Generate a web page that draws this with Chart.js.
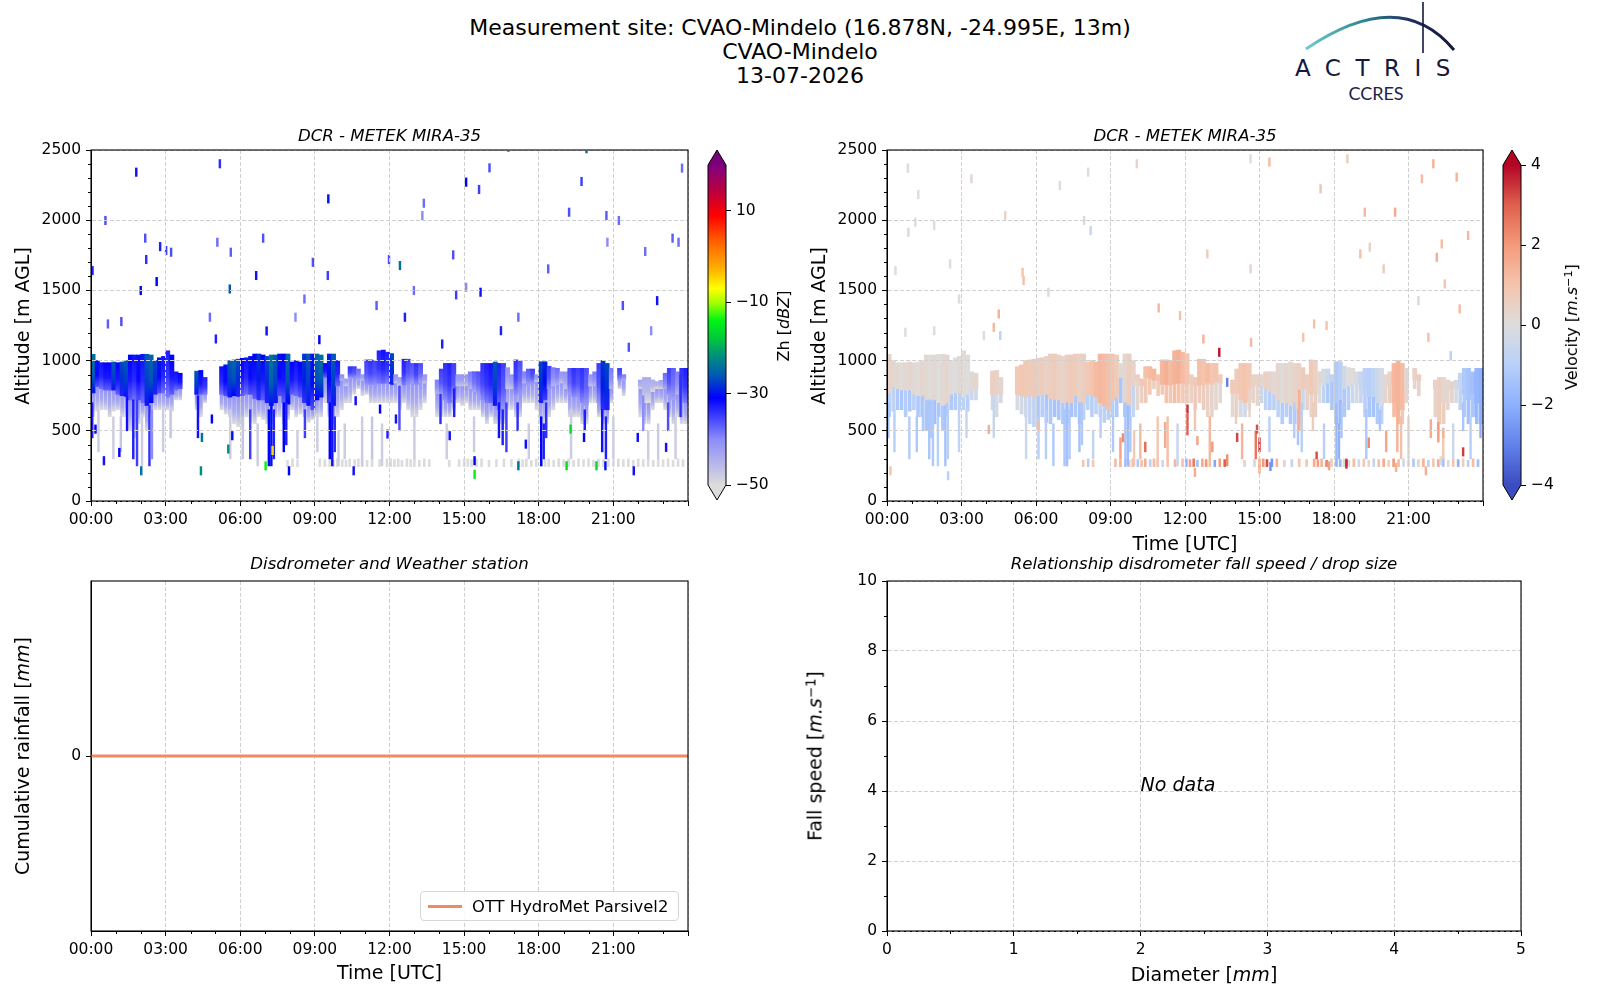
<!DOCTYPE html>
<html lang="en">
<head>
<meta charset="utf-8">
<title>CVAO-Mindelo 13-07-2026</title>
<script src="https://cdn.jsdelivr.net/npm/chart.js@4.4.1/dist/chart.umd.min.js"></script>
<style>
  html, body { margin: 0; padding: 0; background: #ffffff; }
  body { position: relative; width: 1600px; height: 1000px; overflow: hidden; font-family: "DejaVu Sans", sans-serif; color: #000; }
  .box { position: absolute; }
  .txt { position: absolute; white-space: nowrap; line-height: 1; transform: translate(-50%, -50%); }
  .vtxt { position: absolute; white-space: nowrap; line-height: 1; transform: translate(-50%, -50%) rotate(-90deg); }
  .ttl { font-style: italic; font-size: 16.6px; }
  .lab { font-size: 19px; }
  .cbl { font-size: 16px; }
  sup { font-size: 70%; vertical-align: 0.45em; line-height: 0; }
  #suptitle { position: absolute; left: 0; top: 16px; width: 1600px; text-align: center; font-size: 22px; line-height: 24px; }
  #logo-actris { position: absolute; left: 1295px; top: 57px; font-family: "DejaVu Sans", sans-serif; font-size: 23px; letter-spacing: 14.5px; color: #16193f; line-height: 1; }
  #logo-ccres { position: absolute; left: 1376px; top: 93px; transform: translate(-50%, -50%); font-family: Lato, "DejaVu Sans", sans-serif; font-size: 18px; color: #1f2348; line-height: 1; }
  #legend { position: absolute; left: 420px; top: 891px; width: 259px; height: 30px; border: 1px solid #d6d6d6; border-radius: 4px; background: rgba(255,255,255,0.85); box-sizing: border-box; }
  #legend .swatch { position: absolute; left: 7px; top: 13px; width: 34px; height: 3px; background: #ef8a62; }
  #legend .name { position: absolute; left: 51px; top: 50%; transform: translateY(-50%); font-size: 16.4px; white-space: nowrap; }
</style>
</head>
<body>

<div id="suptitle">Measurement site: CVAO-Mindelo (16.878N, -24.995E, 13m)<br>CVAO-Mindelo<br>13-07-2026</div>

<svg class="box" style="left:1290px;top:0" width="180" height="60">
  <defs>
    <linearGradient id="arcGrad" x1="0" x2="1" y1="0" y2="0">
      <stop offset="0" stop-color="#72cbc6"/>
      <stop offset="0.4" stop-color="#2b8593"/>
      <stop offset="0.72" stop-color="#1f2a58"/>
      <stop offset="1" stop-color="#15183a"/>
    </linearGradient>
  </defs>
  <path d="M16 49 Q110 -15 164 50" stroke="url(#arcGrad)" stroke-width="3" fill="none"/>
  <line x1="133" y1="2" x2="133" y2="53" stroke="#15183a" stroke-width="1.6"/>
</svg>
<div id="logo-actris">ACTRIS</div>
<div id="logo-ccres">CCRES</div>

<div class="box" style="left:0;top:130px;width:700px;height:410px"><canvas id="zhChart"></canvas></div>
<div class="box" style="left:700px;top:130px;width:90px;height:410px"><canvas id="zhBar"></canvas></div>
<div class="box" style="left:800px;top:130px;width:700px;height:410px"><canvas id="velChart"></canvas></div>
<div class="box" style="left:1495px;top:130px;width:100px;height:410px"><canvas id="velBar"></canvas></div>
<div class="box" style="left:0;top:560px;width:700px;height:420px"><canvas id="rainChart"></canvas></div>
<div class="box" style="left:800px;top:560px;width:760px;height:420px"><canvas id="dropChart"></canvas></div>

<div class="txt ttl" style="left:389.5px;top:136px">DCR - METEK MIRA-35</div>
<div class="txt ttl" style="left:1185px;top:136px">DCR - METEK MIRA-35</div>
<div class="txt ttl" style="left:389.5px;top:564px">Disdrometer and Weather station</div>
<div class="txt ttl" style="left:1204px;top:564px">Relationship disdrometer fall speed / drop size</div>

<div class="vtxt lab" style="left:22px;top:326px">Altitude [m AGL]</div>
<div class="vtxt lab" style="left:818px;top:326px">Altitude [m AGL]</div>
<div class="txt lab" style="left:1185px;top:543px">Time [UTC]</div>
<div class="vtxt cbl" style="left:784px;top:326px">Zh [<i>dBZ</i>]</div>
<div class="vtxt cbl" style="left:1572px;top:327px">Velocity [<i>m.s</i><sup>&minus;1</sup>]</div>

<div class="vtxt lab" style="left:22px;top:756px">Cumulative rainfall [<i>mm</i>]</div>
<div class="txt lab" style="left:389.5px;top:972px">Time [UTC]</div>
<div class="vtxt lab" style="left:815px;top:756px">Fall speed [<i>m.s</i><sup>&minus;1</sup>]</div>
<div class="txt lab" style="left:1204px;top:974px">Diameter [<i>mm</i>]</div>

<div id="legend"><div class="swatch"></div><div class="name">OTT HydroMet Parsivel2</div></div>

<script>
// Ticks dos eixos
const hourTicks = [0, 3, 6, 9, 12, 15, 18, 21, 24];
const altitudeTicks = [0, 500, 1000, 1500, 2000, 2500];
const zhTicks = [-50, -30, -10, 10];
const velocityTicks = [-4, -2, 0, 2, 4];
const rainTicks = [0];
const diameterTicks = [0, 1, 2, 3, 4, 5];
const fallSpeedTicks = [0, 2, 4, 6, 8, 10];

// Colunas do radar a cada 10 min (6 por hora)
const COLUMN_H = 1 / 6;

// Topo da nuvem (m)
const cloudTop = [
  1045, 1000, 985, 985, 985, 990,     // 00h
  985, 990, 1000, 1040, 1040, 1040,   // 01h
  1045, 1045, 1040, 1000, 1020, 1030, // 02h
  1070, 1040, 920, 910, null, null,   // 03h
  null, 925, 930, 880, null, null,    // 04h
  null, 957, 970, 1000, 1005, 1010,   // 05h
  1016, 1020, 1030, 1047, 1047, 1040, // 06h
  1030, 1040, 1040, 1047, 1047, 1047, // 07h
  990, 1000, 990, 1047, 1047, 1047,   // 08h
  1047, 1040, 980, 1047, 1047, 1000,  // 09h
  900, 870, 957, 957, 940, 900,       // 10h
  1005, 1005, 1000, 1070, 1075, 1060, // 11h
  1050, 900, 880, 1010, 1010, 980,    // 12h
  980, 980, 900, null, null, 862,     // 13h
  940, 980, 980, 980, 900, 900,       // 14h
  900, 920, 921, 921, 980, 980,       // 15h
  980, 990, 980, 980, 950, 900,       // 16h
  1005, 1000, 921, 940, 940, 900,     // 17h
  992, 992, 960, 950, 945, 920,       // 18h
  920, 945, 945, 945, 945, 945,       // 19h
  900, 920, 980, 1000, 980, 945,      // 20h
  null, 945, 900, null, null, null,   // 21h
  862, 880, 880, 862, 850, 860,       // 22h
  910, 945, 945, 920, 945, 945        // 23h
];

// Base da parte densa do eco (m)
const denseBase = [
  770, 815, 800, 790, 790, 790,
  760, 750, 745, 720, 720, 720,
  700, 680, 700, 760, 770, 770,
  740, 760, 790, 800, null, null,
  null, 760, 760, 760, null, null,
  null, 760, 750, 740, 750, 745,
  750, 760, 760, 730, 720, 720,
  700, 680, 700, 750, 700, 690,
  760, 750, 740, 700, 680, 650,
  720, 740, 880, 700, 680, 820,
  860, 820, 880, 874, 860, 860,
  830, 830, 826, 838, 838, 840,
  830, 840, 820, 826, 830, 840,
  830, 850, 840, null, null, 767,
  767, 720, 700, 720, 820, 820,
  820, 800, 780, 760, 720, 700,
  700, 680, 650, 660, 800, 800,
  760, 760, 840, 820, 840, 850,
  700, 720, 800, 820, 830, 840,
  800, 760, 743, 743, 700, 680,
  820, 820, 700, 650, 650, 800,
  null, 862, 860, null, null, null,
  800, 700, 700, 780, 800, 800,
  800, 760, 720, 760, 700, 700
];

// Base da virga fraca (m)
const virgaBase = [
  600, 640, 650, 650, 600, 640,
  650, 600, 600, 500, 450, 550,
  600, 500, 600, 650, 650, 650,
  650, 640, 720, 720, null, null,
  null, 650, 600, 700, null, null,
  null, 650, 620, 600, 550, 530,
  530, 600, 560, 550, 600, 580,
  550, 550, 600, 600, 550, 580,
  650, 600, 620, 600, 560, 580,
  600, 600, 700, 600, 550, 600,
  650, 700, 700, 760, 800, 750,
  760, 700, 700, 700, 700, 700,
  700, 700, 650, 700, 650, 600,
  600, 650, 700, null, null, 600,
  600, 600, 600, 650, 700, 680,
  700, 650, 650, 650, 600, 550,
  600, 550, 550, 550, 650, 650,
  600, 600, 700, 700, 700, 650,
  550, 550, 600, 650, 700, 700,
  700, 600, 600, 600, 550, 550,
  700, 700, 600, 550, 550, 700,
  null, 800, 750, null, null, null,
  600, 550, 550, 650, 700, 700,
  650, 600, 550, 600, 550, 550
];

// Refletividade no topo da parte densa (dBZ)
const zhCore = [
  -24, -30, -32, -31, -31, -26,
  -31, -27, -26, -31, -32, -30,
  -32, -26, -25, -27, -30, -32,
  -33, -31, -32, -31, null, null,
  null, -26, -31, -33, null, null,
  null, -32, -30, -26, -25, -27,
  -31, -32, -30, -31, -28, -31,
  -27, -24, -26, -30, -31, -25,
  -31, -32, -31, -28, -26, -30,
  -25, -24, -31, -29, -26, -32,
  -40, -42, -34, -35, -38, -41,
  -35, -34, -35, -33, -32, -33,
  -27, -41, -42, -33, -35, -36,
  -34, -36, -41, null, null, -39,
  -35, -34, -33, -35, -41, -41,
  -41, -39, -37, -36, -34, -33,
  -32, -26, -33, -35, -41, -41,
  -34, -36, -39, -37, -35, -41,
  -27, -29, -35, -39, -38, -41,
  -41, -36, -34, -35, -34, -36,
  -41, -39, -35, -28, -27, -39,
  null, -35, -39, null, null, null,
  -43, -44, -44, -44, -44, -43,
  -38, -35, -37, -39, -34, -33
];

// Velocidade Doppler na parte superior (m/s)
const velUpper = [
  0.4, 0.3, 0.2, 0.1, 0.2, 0.3,
  0.2, 0.1, 0.3, 0.2, 0.1, 0.2,
  0.0, 0.2, 0.3, 0.1, 0.0, 0.2,
  0.1, 0.0, 0.2, 0.3, null, null,
  null, 0.6, 0.5, 0.3, null, null,
  null, 0.8, 0.9, 0.8, 0.7, 0.8,
  0.6, 0.7, 0.5, 0.6, 0.7, 0.5,
  0.4, 0.6, 0.8, 0.7, 0.5, 0.6,
  0.8, 1.0, 1.2, 1.3, 1.2, 1.1,
  1.0, 0.7, 0.2, 0.3, 0.6, 0.4,
  0.6, 0.9, 1.1, 1.2, 1.3, 1.0,
  1.3, 1.5, 1.2, 1.4, 1.5, 1.2,
  1.0, 0.6, 0.8, 1.1, 1.0, 1.2,
  0.9, 1.0, 0.7, null, null, 0.8,
  0.7, 0.9, 1.0, 0.8, 0.5, 0.4,
  0.3, 0.5, 0.4, 0.2, 0.3, 0.1,
  0.3, 0.2, 0.4, 0.5, 0.7, 0.6,
  0.8, 0.5, 0.3, -0.2, -0.5, -0.8,
  -1.2, -1.0, -0.4, 0.0, 0.1, -0.2,
  -0.6, -0.9, -1.0, -0.8, -0.5, -0.2,
  0.2, 0.5, 1.3, 1.4, 1.2, 0.3,
  null, 0.5, 0.6, null, null, null,
  0.4, 0.6, 0.3, 0.2, 0.5, -0.3,
  -0.6, -1.2, -1.4, -1.5, -1.8, -1.9
];

// Velocidade Doppler na virga (m/s)
const velLower = [
  -1.0, -0.8, -1.2, -1.3, -1.1, -1.2,
  -1.0, -1.2, -1.4, -1.3, -1.2, -1.5,
  -1.3, -1.2, -1.0, -1.2, -1.1, -0.9,
  -0.8, -1.0, -0.5, -0.4, null, null,
  null, -0.4, -0.2, -0.3, null, null,
  null, -0.2, -0.3, -0.5, -0.6, -0.8,
  -1.2, -1.0, -1.3, -1.2, -1.4, -1.3,
  -1.2, -1.1, -1.4, -1.2, -1.0, -0.8,
  -0.9, -1.0, -0.8, -0.6, -0.9, -1.0,
  -1.0, -1.2, -1.3, -1.5, -1.2, -0.6,
  0.3, 0.5, 0.8, 0.9, 0.6, 0.7,
  0.8, 1.0, 0.9, 1.1, 1.0, 0.8,
  0.6, 0.5, 0.4, 0.6, 0.7, 0.5,
  0.4, 0.3, 0.2, null, null, 0.2,
  0.0, -0.2, -0.3, 0.2, 0.4, 0.3,
  -0.4, -0.8, -1.0, -0.9, -0.8, -1.1,
  -1.0, -1.2, -1.3, -0.9, -0.5, 0.5,
  0.4, 0.6, 0.1, -0.8, -1.2, -1.3,
  -1.6, -1.8, -1.2, -1.0, -0.5, -0.3,
  -0.6, -1.0, -1.3, -1.4, -1.2, -0.8,
  0.3, 0.6, 1.2, 1.3, 0.8, 0.2,
  null, 0.3, 0.4, null, null, null,
  0.5, 0.8, 0.6, 0.3, 0.4, -0.2,
  -0.8, -1.2, -1.5, -1.3, -1.6, -1.7
];

// Faixas de precipitação: [hora, base m, topo m, Zh dBZ, velocidade m/s]
const streaks = [
  [0.05, 450, 700, -33, -1.5], [0.3, 350, 650, -48, -1.0], [0.9, 300, 600, -48, -1.1],
  [1.2, 350, 600, -47, -1.2], [1.45, 500, 750, -32, -1.2], [1.7, 300, 720, -33, -1.3],
  [1.85, 250, 720, -35, -1.2], [2.05, 250, 600, -48, -1.0], [2.35, 250, 680, -34, -1.4],
  [2.45, 300, 650, -40, -1.0], [2.9, 350, 650, -48, -0.8], [3.2, 450, 650, -47, -0.6],
  [4.3, 450, 750, -32, -0.6], [5.6, 300, 650, -48, -0.5], [6.1, 300, 600, -47, -1.0],
  [6.4, 300, 650, -35, -1.0], [6.7, 250, 550, -48, -1.2], [7.15, 250, 650, -31, -1.3],
  [7.25, 250, 700, -30, -1.5], [7.35, 300, 650, -33, -1.2], [7.75, 350, 700, -31, -1.4],
  [7.85, 400, 700, -33, -1.2], [8.3, 300, 500, -48, -0.8], [8.6, 450, 650, -35, -1.0],
  [9.1, 350, 600, -48, -1.2], [9.6, 300, 700, -31, -1.3], [9.7, 250, 680, -32, -1.6],
  [9.8, 350, 600, -34, -1.2], [9.95, 250, 500, -48, 0.8], [10.2, 300, 550, -48, 1.2],
  [10.9, 250, 600, -48, 0.9], [11.3, 300, 600, -47, 1.1], [11.7, 250, 550, -48, -0.6],
  [12.4, 500, 820, -36, 0.9], [13.0, 300, 600, -48, 1.3], [14.05, 550, 760, -34, 0.6],
  [14.3, 300, 550, -48, 1.4], [14.6, 600, 800, -33, 0.4], [15.4, 350, 600, -48, -0.9],
  [16.4, 450, 700, -32, -1.1], [16.55, 400, 650, -33, -1.3], [16.7, 350, 700, -35, -1.0],
  [17.15, 500, 700, -34, 0.7], [17.6, 300, 550, -48, -1.0], [18.1, 250, 600, -31, -1.7],
  [18.2, 300, 550, -33, -1.9], [18.3, 450, 700, -34, -1.4], [19.3, 300, 650, -48, -1.2],
  [19.85, 500, 650, -33, -1.3], [20.55, 350, 650, -32, 1.4], [20.7, 300, 600, -33, 1.1],
  [21.0, 300, 600, -48, 0.5], [22.2, 500, 750, -40, 0.6], [22.4, 300, 500, -48, 0.9],
  [22.8, 300, 550, -48, -0.5], [23.2, 500, 700, -36, -1.3], [23.5, 300, 600, -48, -1.0],
  [23.7, 600, 900, -34, -1.8]
];

// Faixas vistas apenas na velocidade: [hora, base m, topo m, velocidade m/s]
const velStreaks = [
  [9.4, 300, 450, 1.8], [10.4, 350, 420, 2.8], [11.2, 380, 560, 1.6], [12.1, 470, 620, 3.0],
  [12.5, 400, 460, 1.8], [13.1, 350, 420, 2.0], [13.7, 250, 330, 2.2], [14.85, 300, 500, 2.6],
  [15.0, 350, 450, 3.4], [16.6, 500, 790, 1.5], [17.3, 300, 350, 3.2], [18.5, 250, 300, 3.0],
  [19.4, 380, 450, 2.3], [20.1, 350, 500, 1.7], [21.9, 450, 580, 1.6], [22.2, 420, 560, 1.9],
  [22.4, 450, 520, 1.4], [23.2, 320, 380, 3.4], [23.9, 450, 700, -2.0]
];

// Camada baixa perto do solo: [hora, topo m, velocidade m/s]
const LOW_BASE = 245;
const LOW_ZH = -50;
const lowLayer = [
  [7.9, 290, 1.0], [8.1, 300, -1.0], [8.3, 290, 0.8], [9.2, 300, 1.2], [9.4, 295, 1.4],
  [9.6, 300, -1.5], [9.75, 290, 0.9], [9.9, 300, 1.3], [10.1, 295, -1.2], [10.25, 290, 1.1],
  [10.4, 300, 1.5], [10.6, 295, -0.9], [10.75, 300, 1.2], [10.9, 295, 0.8], [11.1, 290, -0.5],
  [11.3, 300, 1.0], [11.6, 295, 1.3], [11.9, 300, 1.1], [12.05, 300, -2.0], [12.2, 295, 1.8],
  [12.35, 300, 2.5], [12.5, 290, -1.5], [12.7, 300, 1.6], [12.85, 295, 2.0], [13.0, 300, 1.2],
  [13.2, 290, -2.2], [13.4, 300, 1.9], [13.6, 295, 3.0], [14.4, 290, 0.4], [14.8, 295, -0.3],
  [15.0, 300, 1.5], [15.15, 300, 2.0], [15.3, 295, 3.2], [15.5, 300, -2.5], [15.7, 300, 1.4],
  [16.0, 290, 0.5], [16.3, 295, -0.8], [16.6, 300, 1.0], [16.9, 295, 0.8], [17.2, 300, 1.5],
  [17.35, 295, 1.9], [17.5, 300, 1.3], [17.7, 290, 2.4], [17.9, 300, 0.6], [18.1, 300, -1.5],
  [18.25, 295, -1.8], [18.4, 300, 0.2], [18.6, 290, 0.0], [18.8, 300, 1.2], [19.0, 295, -0.4],
  [19.2, 300, 0.9], [19.4, 290, 0.3], [19.6, 300, -0.6], [19.8, 295, 1.1], [20.0, 300, 1.6],
  [20.2, 290, 0.5], [20.4, 300, 2.0], [20.6, 295, 1.2], [20.8, 300, -0.3], [21.0, 290, 0.6],
  [21.2, 300, -1.2], [21.4, 295, 0.4], [21.6, 300, 1.4], [21.8, 290, -0.9], [22.0, 300, 0.8],
  [22.2, 295, 1.6], [22.4, 300, -1.4], [22.6, 290, 0.2], [22.8, 300, 1.0], [23.0, 295, -2.0],
  [23.2, 300, 0.6], [23.4, 290, -1.0], [23.6, 300, 1.2], [23.8, 295, -1.5]
];

// Ecos isolados de refletividade: [hora, altitude m, Zh dBZ]
const SPECK_DEPTH = 60;
const zhSpecks = [
  [1.82, 2312, -32], [5.18, 2372, -34], [0.58, 1968, -36], [9.54, 2122, -30], [2.18, 1842, -36],
  [2.78, 1782, -33], [3.02, 1754, -35], [3.22, 1742, -36], [2.22, 1690, -34], [0.06, 1611, -33],
  [2.64, 1533, -31], [2.0, 1469, -30], [5.58, 1480, -26], [6.64, 1576, -32], [6.92, 1842, -36],
  [5.08, 1813, -38], [5.62, 1742, -37], [8.92, 1670, -36], [9.52, 1576, -35], [8.58, 1409, -38],
  [8.22, 1279, -40], [4.78, 1279, -38], [0.68, 1231, -37], [1.22, 1248, -36], [7.06, 1181, -32],
  [5.02, 1124, -33], [9.18, 1119, -31], [11.98, 1690, -36], [12.42, 1647, -24], [12.62, 1279, -33],
  [13.38, 2091, -38], [13.32, 2003, -40], [14.56, 1723, -36], [15.08, 2241, -31], [15.6, 2189, -35],
  [16.02, 2343, -36], [15.08, 1492, -40], [15.66, 1457, -32], [14.68, 1438, -35], [12.98, 1469, -38],
  [11.48, 1362, -37], [17.18, 1279, -38], [16.48, 1183, -33], [18.38, 1623, -37], [19.22, 2027, -36],
  [19.72, 2246, -35], [19.92, 2479, -24], [20.72, 2003, -37], [21.22, 1968, -38], [20.76, 1813, -40],
  [21.38, 1362, -36], [22.76, 1397, -32], [22.28, 1747, -38], [23.38, 1842, -37], [23.76, 2341, -38],
  [23.62, 1813, -38], [22.52, 1183, -40], [21.62, 1065, -36], [14.12, 1088, -33], [16.78, 2488, -38],
  [2.02, 185, -24], [4.42, 185, -22], [10.56, 185, -32], [7.96, 185, -31], [15.42, 160, -14],
  [17.18, 221, -24], [19.12, 221, -16], [20.32, 221, -16], [20.68, 221, -30], [21.82, 185, -32],
  [7.02, 220, -14], [0.52, 257, -32], [1.14, 316, -31], [5.52, 340, -22], [4.46, 423, -24],
  [0.18, 482, -31], [4.86, 554, -31], [5.68, 435, -30], [10.64, 684, -32], [11.62, 625, -31],
  [12.26, 554, -32], [11.92, 447, -33], [14.42, 435, -32], [15.42, 257, -31], [19.28, 482, -16],
  [17.48, 375, -32], [19.82, 423, -31], [21.98, 423, -32], [23.12, 352, -32], [7.3, 330, -5]
];

// Ecos isolados de velocidade: [hora, altitude m, velocidade m/s]
const velSpecks = [
  [14.64, 2407, 0.0], [15.4, 2384, 1.2], [18.54, 2407, 0.6], [22.0, 2372, 1.4], [0.84, 2341, 0.1],
  [3.4, 2265, 0.2], [8.1, 2312, 0.1], [10.06, 2372, 0.3], [6.96, 2217, 0.0], [21.54, 2265, 1.2],
  [22.94, 2277, 1.4], [17.46, 2193, 1.0], [1.26, 2153, 0.0], [19.24, 2027, 1.3], [20.46, 2027, 1.6],
  [4.76, 2003, 0.4], [7.94, 1968, 0.2], [1.14, 1956, 0.1], [1.9, 1932, 0.0], [0.86, 1884, 0.2],
  [8.2, 1896, -0.6], [23.4, 1861, 1.3], [22.34, 1801, 1.2], [19.44, 1778, 0.5], [19.06, 1730, 1.1],
  [22.14, 1706, 1.5], [12.9, 1730, 0.6], [2.54, 1659, 0.1], [14.64, 1623, 0.3], [20.0, 1623, 0.7],
  [5.46, 1599, 1.0], [0.34, 1611, 0.0], [5.5, 1540, 1.1], [22.46, 1516, 0.9], [6.5, 1457, 0.1],
  [21.4, 1397, 0.2], [2.9, 1409, 0.1], [10.94, 1345, 1.3], [11.8, 1290, 1.1], [23.06, 1338, 1.2],
  [4.5, 1302, 1.4], [4.3, 1207, 1.3], [17.2, 1231, 1.1], [17.7, 1219, 1.0], [3.9, 1148, 0.1],
  [4.56, 1148, -0.8], [0.74, 1172, 0.0], [1.9, 1183, 0.1], [12.74, 1124, 1.4], [14.66, 1100, 1.2],
  [16.76, 1136, 1.0], [21.8, 1136, 1.1], [22.7, 1005, -0.9], [2.46, 150, -0.9], [0.14, 185, 1.0],
  [12.4, 173, 1.6], [15.0, 197, 1.7], [15.44, 216, -2.6], [17.8, 221, 1.8], [18.5, 233, 3.6],
  [20.5, 209, 1.4], [21.7, 185, 1.5], [22.3, 257, 0.1], [13.38, 1029, 3.8], [12.1, 625, 3.5],
  [13.7, 815, -3.0], [14.9, 482, 3.2], [14.1, 423, 3.3], [4.1, 480, 1.5], [6.1, 500, 1.2],
  [9.5, 420, 2.2]
];

// Disdrômetro: chuva acumulada (mm) e relação diâmetro / velocidade de queda (sem dados)
const rainTimes = [0, 4, 8, 12, 16, 20, 24];
const cumulativeRain = [0, 0, 0, 0, 0, 0, 0];
const dropDiameter = [];
const dropFallSpeed = [];

// Escalas de cores
const zhStops = [
  [-50, [220, 220, 220]], [-40, [140, 140, 250]], [-31, [0, 0, 255]], [-26, [0, 90, 180]],
  [-22, [0, 140, 130]], [-18, [0, 200, 60]], [-14, [0, 245, 20]], [-10, [170, 255, 0]],
  [-7, [255, 255, 0]], [-3, [255, 180, 0]], [3, [255, 100, 0]], [9, [255, 0, 0]],
  [14, [190, 0, 60]], [20, [128, 0, 128]]
];
const velStops = [
  [-4, [59, 76, 192]], [-3, [98, 130, 234]], [-2, [141, 176, 254]], [-1, [184, 208, 249]],
  [0, [221, 221, 221]], [1, [245, 196, 173]], [2, [244, 154, 123]], [3, [222, 96, 77]],
  [4, [180, 4, 38]]
];

const GRID_COLOR = '#d0d0d0';
const FONT = '"DejaVu Sans", sans-serif';

function rgb(c) {
  return `rgb(${Math.round(c[0])}, ${Math.round(c[1])}, ${Math.round(c[2])})`;
}

function makeColormap(stops) {
  return function (v) {
    if (v <= stops[0][0]) return rgb(stops[0][1]);
    for (let i = 1; i < stops.length; i++) {
      if (v <= stops[i][0]) {
        const [v0, c0] = stops[i - 1];
        const [v1, c1] = stops[i];
        const f = (v - v0) / (v1 - v0);
        return rgb(c0.map((c, k) => c + (c1[k] - c) * f));
      }
    }
    return rgb(stops[stops.length - 1][1]);
  };
}

const zhColor = makeColormap(zhStops);
const velColor = makeColormap(velStops);

// Barras flutuantes para as colunas de 10 min
function columnDataset(lower, upper, values, cmap, thickness) {
  const data = [];
  const colors = [];
  lower.forEach((lo, i) => {
    const hi = upper[i];
    if (lo === null || hi === null) return;
    const v = Array.isArray(values) ? values[i] : values;
    data.push({ x: (i + 0.5) * COLUMN_H, y: [lo, hi], v: v });
    colors.push(cmap(v));
  });
  return { data, backgroundColor: colors, barThickness: thickness, grouped: false, borderWidth: 0 };
}

// Barras flutuantes a partir de uma lista de linhas
function listDataset(rows, pick, cmap, thickness) {
  const data = [];
  const colors = [];
  rows.forEach(row => {
    const p = pick(row);
    data.push({ x: p.t, y: [p.lo, p.hi], v: p.v });
    colors.push(cmap(p.v));
  });
  return { data, backgroundColor: colors, barThickness: thickness, grouped: false, borderWidth: 0 };
}

// Degradê vertical dentro de cada barra: valor do topo até o valor da base
function fadeColor(cmap, bottomOf) {
  return function (context) {
    const chart = context.chart;
    const raw = context.raw;
    if (!raw || !Array.isArray(raw.y)) return 'rgba(0,0,0,0)';
    const top = raw.v;
    const bottom = bottomOf(top);
    if (!chart.chartArea) return cmap(top);
    const y = chart.scales.y;
    const pTop = y.getPixelForValue(raw.y[1]);
    const pBottom = y.getPixelForValue(raw.y[0]);
    if (!isFinite(pTop) || !isFinite(pBottom) || pTop === pBottom) return cmap(top);
    const grad = chart.ctx.createLinearGradient(0, pTop, 0, pBottom);
    grad.addColorStop(0, cmap(top));
    grad.addColorStop(0.55, cmap((top + bottom) / 2 + 1.5));
    grad.addColorStop(1, cmap(bottom));
    return grad;
  };
}

function minorValues(min, max, step, major) {
  const out = [];
  for (let v = min; v <= max + 1e-9; v += step) {
    const r = Math.round(v * 1000) / 1000;
    if (Math.abs(r / major - Math.round(r / major)) > 1e-6) out.push(r);
  }
  return out;
}

const hourLabel = v => (v < 24 ? `${String(v).padStart(2, '0')}:00` : '');
const plainLabel = v => String(v);
const minusLabel = v => (v < 0 ? '\u2212' + Math.abs(v) : String(v));

// Eixo linear com ticks fixos e tamanho fixo
function linearAxis(min, max, ticks, size, format, isX, gridZ) {
  const z = gridZ === undefined ? 1 : gridZ;
  return {
    type: 'linear',
    min: min,
    max: max,
    offset: false,
    afterBuildTicks: scale => { scale.ticks = ticks.map(v => ({ value: v })); },
    afterFit: scale => { if (isX) { scale.height = size; } else { scale.width = size; } },
    ticks: { callback: format, padding: 5, autoSkip: false, maxRotation: 0, color: '#000' },
    grid: { color: GRID_COLOR, lineWidth: 1, tickColor: '#000', tickLength: 5, tickWidth: 1, offset: false, z: z },
    border: { color: '#000', width: 1, dash: [4, 2], z: z }
  };
}

// Plugin: moldura completa do eixo
const framePlugin = {
  id: 'frame',
  afterDraw(chart) {
    const { ctx, chartArea: a } = chart;
    ctx.save();
    ctx.strokeStyle = '#000000';
    ctx.lineWidth = 1.1;
    ctx.strokeRect(a.left, a.top, a.right - a.left, a.bottom - a.top);
    ctx.restore();
  }
};

// Plugin: ticks menores
const minorTickPlugin = {
  id: 'minorTicks',
  afterDraw(chart, args, opts) {
    const { ctx, chartArea: a, scales } = chart;
    ctx.save();
    ctx.strokeStyle = '#000000';
    ctx.lineWidth = 1;
    ctx.beginPath();
    (opts.x || []).forEach(v => {
      const px = Math.round(scales.x.getPixelForValue(v)) + 0.5;
      ctx.moveTo(px, a.bottom);
      ctx.lineTo(px, a.bottom + 3);
    });
    (opts.y || []).forEach(v => {
      const py = Math.round(scales.y.getPixelForValue(v)) + 0.5;
      ctx.moveTo(a.left, py);
      ctx.lineTo(a.left - 3, py);
    });
    ctx.stroke();
    ctx.restore();
  }
};

// Plugin: texto "No data" em coordenadas de dados
const noDataPlugin = {
  id: 'noData',
  afterDraw(chart, args, opts) {
    if (!opts.text) return;
    const { ctx, scales } = chart;
    ctx.save();
    ctx.font = `italic 19px ${FONT}`;
    ctx.fillStyle = '#000';
    ctx.textAlign = 'left';
    ctx.textBaseline = 'alphabetic';
    ctx.fillText(opts.text, scales.x.getPixelForValue(opts.x), scales.y.getPixelForValue(opts.y));
    ctx.restore();
  }
};

// Plugin: barra de cores com extensões triangulares
const colorbarPlugin = {
  id: 'colorbar',
  beforeDatasetsDraw(chart, args, opts) {
    const { ctx, chartArea: a, scales: { y } } = chart;
    const span = y.max - y.min;
    const grad = ctx.createLinearGradient(0, a.bottom, 0, a.top);
    opts.stops.forEach(s => grad.addColorStop(Math.min(1, Math.max(0, (s[0] - y.min) / span)), rgb(s[1])));
    const cx = (a.left + a.right) / 2;
    const tri = opts.tri;
    ctx.save();
    ctx.fillStyle = grad;
    ctx.fillRect(a.left, a.top, a.right - a.left, a.bottom - a.top);
    ctx.fillStyle = opts.over;
    ctx.beginPath();
    ctx.moveTo(a.left, a.top); ctx.lineTo(cx, a.top - tri); ctx.lineTo(a.right, a.top);
    ctx.closePath(); ctx.fill();
    ctx.fillStyle = opts.under;
    ctx.beginPath();
    ctx.moveTo(a.left, a.bottom); ctx.lineTo(cx, a.bottom + tri); ctx.lineTo(a.right, a.bottom);
    ctx.closePath(); ctx.fill();
    ctx.strokeStyle = '#000';
    ctx.lineWidth = 1;
    ctx.beginPath();
    ctx.moveTo(a.left, a.bottom); ctx.lineTo(a.left, a.top); ctx.lineTo(cx, a.top - tri);
    ctx.lineTo(a.right, a.top); ctx.lineTo(a.right, a.bottom); ctx.lineTo(cx, a.bottom + tri);
    ctx.closePath(); ctx.stroke();
    ctx.restore();
  }
};

function radarChart(canvasId, datasets, yWidth, padRight) {
  return new Chart(document.getElementById(canvasId), {
    type: 'bar',
    data: { datasets: datasets },
    options: {
      responsive: true,
      maintainAspectRatio: false,
      animation: false,
      layout: { padding: { top: 20, right: padRight, left: 0, bottom: 0 } },
      scales: {
        x: linearAxis(0, 24, hourTicks, 39, hourLabel, true),
        y: linearAxis(0, 2500, altitudeTicks, yWidth, plainLabel, false)
      },
      plugins: {
        legend: { display: false },
        tooltip: { enabled: false },
        minorTicks: { x: minorValues(0, 24, 1, 3), y: minorValues(0, 2500, 100, 500) }
      }
    },
    plugins: [framePlugin, minorTickPlugin]
  });
}

function colorbarChart(canvasId, min, max, ticks, stops, over, under, width) {
  return new Chart(document.getElementById(canvasId), {
    type: 'scatter',
    data: { datasets: [] },
    options: {
      responsive: true,
      maintainAspectRatio: false,
      animation: false,
      layout: { padding: { top: 35, bottom: 55, left: 8, right: 0 } },
      scales: {
        x: { display: false },
        y: {
          type: 'linear', position: 'right', min: min, max: max,
          afterBuildTicks: scale => { scale.ticks = ticks.map(v => ({ value: v })); },
          afterFit: scale => { scale.width = width; },
          ticks: { callback: minusLabel, padding: 5, color: '#000', autoSkip: false },
          grid: { drawOnChartArea: false, tickColor: '#000', tickLength: 5, tickWidth: 1 },
          border: { display: false }
        }
      },
      plugins: {
        legend: { display: false },
        tooltip: { enabled: false },
        colorbar: { stops: stops, over: over, under: under, tri: 15 }
      }
    },
    plugins: [colorbarPlugin]
  });
}

// Painel de refletividade
function setupReflectivity() {
  const core = columnDataset(denseBase, cloudTop, zhCore, zhColor, 4.2);
  core.backgroundColor = fadeColor(zhColor, v => v - 6);
  const virga = columnDataset(virgaBase, denseBase, -41, zhColor, 3.2);
  virga.backgroundColor = fadeColor(zhColor, () => -50);
  const datasets = [
    listDataset(zhSpecks, r => ({ t: r[0], lo: r[1], hi: r[1] + SPECK_DEPTH, v: r[2] }), zhColor, 1.8),
    listDataset(streaks, r => ({ t: r[0], lo: r[1], hi: r[2], v: r[3] }), zhColor, 1.8),
    core,
    listDataset(lowLayer, r => ({ t: r[0], lo: LOW_BASE, hi: r[1], v: LOW_ZH }), zhColor, 2),
    virga
  ];
  radarChart('zhChart', datasets, 91, 12);
  colorbarChart('zhBar', -50, 20, zhTicks, zhStops, 'rgb(120, 0, 120)', 'rgb(220, 220, 220)', 64);
}

// Painel de velocidade Doppler
function setupVelocity() {
  const datasets = [
    listDataset(velSpecks, r => ({ t: r[0], lo: r[1], hi: r[1] + SPECK_DEPTH, v: r[2] }), velColor, 1.8),
    listDataset(velStreaks, r => ({ t: r[0], lo: r[1], hi: r[2], v: r[3] }), velColor, 1.8),
    listDataset(streaks, r => ({ t: r[0], lo: r[1], hi: r[2], v: r[4] }), velColor, 1.8),
    columnDataset(denseBase, cloudTop, velUpper, velColor, 4.2),
    listDataset(lowLayer, r => ({ t: r[0], lo: LOW_BASE, hi: r[1], v: r[2] }), velColor, 2),
    columnDataset(virgaBase, denseBase, velLower, velColor, 3)
  ];
  radarChart('velChart', datasets, 87, 17);
  colorbarChart('velBar', -4, 4, velocityTicks, velStops, 'rgb(180, 4, 38)', 'rgb(59, 76, 192)', 74);
}

// Painel de chuva acumulada
function setupRainfall() {
  new Chart(document.getElementById('rainChart'), {
    type: 'line',
    data: {
      datasets: [{
        label: 'OTT HydroMet Parsivel2',
        data: rainTimes.map((t, i) => ({ x: t, y: cumulativeRain[i] })),
        borderColor: '#ef8a62',
        borderWidth: 3,
        pointRadius: 0,
        fill: false
      }]
    },
    options: {
      responsive: true,
      maintainAspectRatio: false,
      animation: false,
      layout: { padding: { top: 21, right: 12, left: 0, bottom: 0 } },
      scales: {
        x: linearAxis(0, 24, hourTicks, 49, hourLabel, true, 0),
        y: linearAxis(-1, 1, rainTicks, 91, plainLabel, false, 0)
      },
      plugins: {
        legend: { display: false },
        tooltip: { enabled: false },
        minorTicks: { x: minorValues(0, 24, 1, 3), y: [] }
      }
    },
    plugins: [framePlugin, minorTickPlugin]
  });
}

// Painel diâmetro / velocidade de queda
function setupDropSize() {
  new Chart(document.getElementById('dropChart'), {
    type: 'scatter',
    data: {
      datasets: [{
        data: dropDiameter.map((d, i) => ({ x: d, y: dropFallSpeed[i] })),
        backgroundColor: '#1f77b4',
        pointRadius: 2
      }]
    },
    options: {
      responsive: true,
      maintainAspectRatio: false,
      animation: false,
      layout: { padding: { top: 21, right: 39, left: 0, bottom: 0 } },
      scales: {
        x: linearAxis(0, 5, diameterTicks, 49, plainLabel, true),
        y: linearAxis(0, 10, fallSpeedTicks, 87, plainLabel, false)
      },
      plugins: {
        legend: { display: false },
        tooltip: { enabled: false },
        minorTicks: { x: minorValues(0, 5, 0.5, 1), y: minorValues(0, 10, 1, 2) },
        noData: { text: 'No data', x: 2, y: 4 }
      }
    },
    plugins: [framePlugin, minorTickPlugin, noDataPlugin]
  });
}

function initPage() {
  Chart.defaults.font.family = FONT;
  Chart.defaults.font.size = 15.5;
  Chart.defaults.color = '#000';
  setupReflectivity();
  setupVelocity();
  setupRainfall();
  setupDropSize();
}

if (document.readyState === 'loading') {
  document.addEventListener('DOMContentLoaded', initPage);
} else {
  initPage();
}
</script>
</body>
</html>
